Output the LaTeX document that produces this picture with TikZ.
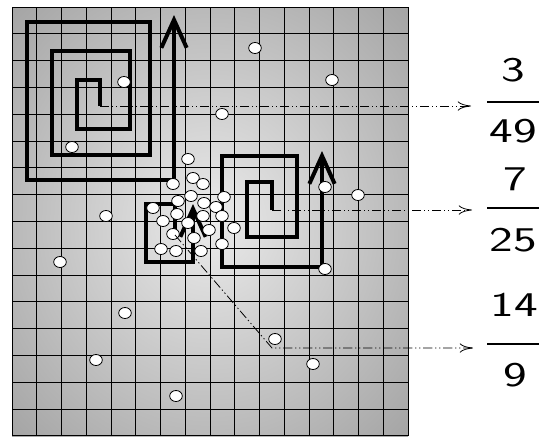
\documentclass[tikz,border=0pt]{standalone}
\usepackage{fontspec}
\usetikzlibrary{arrows.meta}
\pgfdeclareradialshading{board}{\pgfpoint{0bp}{0bp}}{color(0bp)=(gray!16); color(36bp)=(gray!72); color(50bp)=(gray!72)}
\tikzset{
  gridline/.style={line width=0.7pt},
  spiral/.style={line width=3pt,-{Straight Barb[length=21pt,width=19pt]}},
  pointer/.style={line width=0.6pt,dash pattern=on 7pt off 2pt on 1pt off 2pt on 1pt off 2pt,-{Computer Modern Rightarrow[length=10pt,width=7pt]}},
  dot/.style={draw,fill=white,line width=0.6pt},
  digit/.style={font=\sffamily\fontsize{26}{26}\selectfont,inner sep=0pt},
  bar/.style={line width=2.2pt}
}
\newcommand{\wide}[1]{\scalebox{1.45}[1]{#1}}
\begin{document}
\begin{tikzpicture}[x=0.75pt,y=-0.75pt]
\useasboundingbox (0,0) rectangle (539,436);
\shade[shading=board] (12,7) rectangle (408,436);
\foreach \i in {0,...,16} \draw[gridline] (12+24.75*\i,7)--(12+24.75*\i,436);
\foreach \j in {0,...,16} \draw[gridline] (12,7+26.8*\j)--(408,7+26.8*\j);
\coordinate (c1) at (100,106); \coordinate (c2) at (272,210); \coordinate (c3) at (175,235);
\draw[spiral] (c1)--(100,80)--(77,80)--(77,129)--(130,129)--(130,51)--(52,51)--(52,155)--(150,155)--(150,22)--(27,22)--(27,180)--(174,180)--(174,15);
\draw[spiral] (c2)--(272,182)--(247,182)--(247,237)--(297,237)--(297,156)--(222,156)--(222,267)--(322,267)--(322,151);
\draw[spiral] (c3)--(175,204)--(146,204)--(146,262)--(193,262)--(193,204);
\foreach \p in {(255,48),(332,80),(124,82),(222,114),(72,147),(358,195),(325,187),(106,216),(60,262),(325,269),(125,313),(275,339),(96,360),(313,364),(176,396),
  (188,159),(193,178),(203,184),(173,184),(191,196),(224,197),(178,201),(204,203),(216,207),(153,208),(177,214),(203,216),(222,216),(163,221),(188,223),(234,228),(209,230),(173,234),(194,238),(222,244),(161,249),(176,251),(201,251)}
  \draw[dot] \p ellipse (6.3 and 5.5);
\coordinate (a1) at (471,106); \coordinate (a2) at (472,210); \coordinate (k3) at (272,348); \coordinate (a3) at (473,348);
\draw[pointer] (c1)--(a1);
\draw[pointer] (c2)--(a2);
\draw[pointer] (c3)--(k3)--(a3);
\node[digit] (n1) at (513,70) {\wide{3}};
\draw[bar] (487,102)--(539,102);
\node[digit] (d1) at (513,131) {\wide{49}};
\node[digit] (n2) at (515,179) {\wide{7}};
\draw[bar] (487,208)--(539,208);
\node[digit] (d2) at (513,240) {\wide{25}};
\node[digit] (n3) at (514,305) {\wide{14}};
\draw[bar] (487,344)--(539,344);
\node[digit] (d3) at (515,375) {\wide{9}};
\end{tikzpicture}
\end{document}
